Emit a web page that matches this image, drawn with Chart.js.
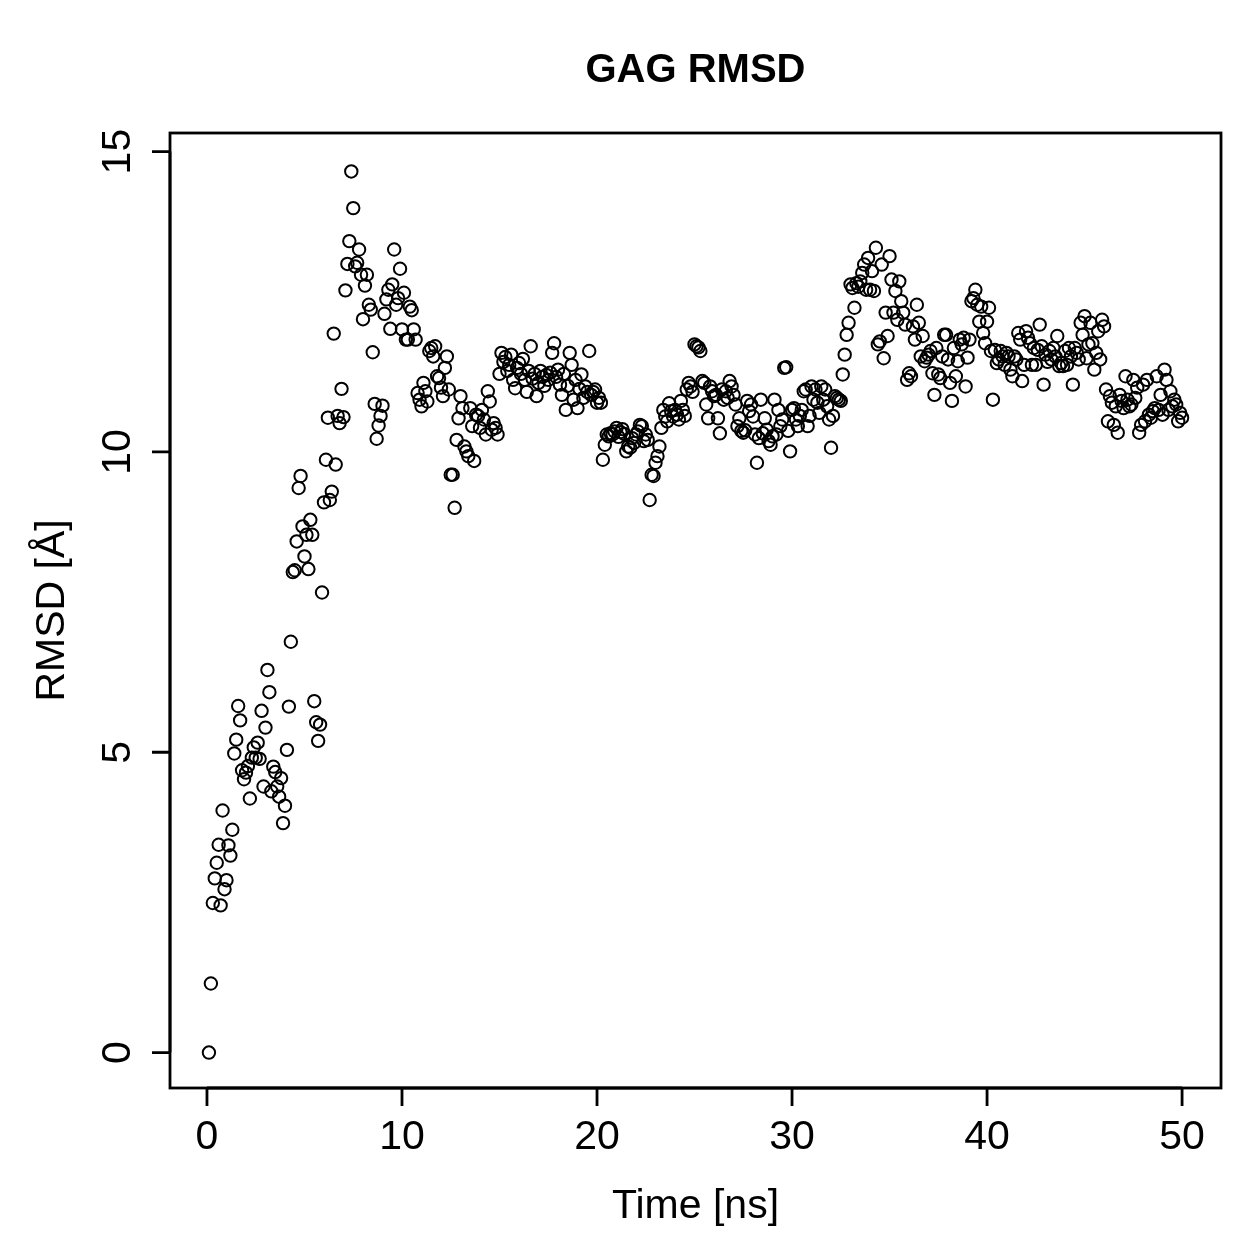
<!DOCTYPE html>
<html>
<head>
<meta charset="utf-8">
<script src="https://cdn.jsdelivr.net/npm/chart.js@4.4.1/dist/chart.umd.min.js"></script>
<style>
  html, body { margin: 0; padding: 0; background: #fff; }
  canvas { display: block; }
</style>
</head>
<body>
<canvas id="rmsdChart" width="1259" height="1259"></canvas>
<script>
// RMSD of the GAG over the trajectory, one frame every 0.1 ns (first frame at 0.1 ns)
const startTime = 0.1;
const timeStep = 0.1;
const rmsd = [
  0, 1.15, 2.49, 2.9, 3.16, 3.46, 2.45, 4.03, 2.72, 2.87,
  3.45, 3.28, 3.71, 4.98, 5.21, 5.77, 5.53, 4.70, 4.55, 4.66,
  4.77, 4.23, 4.91, 5.08, 4.91, 5.16, 4.89, 5.69, 4.43, 5.41,
  6.37, 6.0, 4.35, 4.76, 4.67, 4.43, 4.26, 4.57, 3.82, 4.11,
  5.04, 5.76, 6.84, 8.0, 8.03, 8.51, 9.4, 9.6, 8.76, 8.26,
  8.62, 8.05, 8.87, 8.62, 5.85, 5.5, 5.19, 5.46, 7.66, 9.16,
  9.87, 10.57, 9.2, 9.34, 11.97, 9.79, 10.6, 10.48, 11.05, 10.58,
  12.69, 13.13, 13.51, 14.67, 14.06, 13.09, 13.15, 13.37, 12.95,
  12.21, 12.77, 12.95, 12.45, 12.37, 11.66, 10.8, 10.22, 10.44, 10.6,
  10.77, 12.3, 12.54, 12.7, 12.05, 12.79, 13.37, 12.45, 12.56, 13.05,
  12.04, 12.65, 11.87, 11.87, 12.42, 12.36, 12.04, 11.87, 10.98, 10.87,
  10.76, 11.15, 11.01, 10.84, 11.68, 11.73, 11.59, 11.76, 11.26, 11.23,
  11.07, 10.93, 11.4, 11.59, 11.04, 9.62, 9.62, 9.07, 10.2, 10.56,
  10.93, 10.73, 10.09, 10.01, 9.93, 10.73, 10.43, 9.85, 10.62, 10.6,
  10.4, 10.7, 10.54, 10.29, 11.01, 10.84, 10.37, 10.48, 10.4, 10.29,
  11.3, 11.65, 11.5, 11.58, 11.35, 11.45, 11.62, 11.2, 11.06, 11.4,
  11.48, 11.3, 11.55, 11.2, 11.0, 11.35, 11.76, 11.22, 11.3, 10.93,
  11.15, 11.35, 11.25, 11.1, 11.28, 11.2, 11.32, 11.65, 11.81, 11.25,
  11.37, 11.12, 10.95, 11.3, 10.7, 11.1, 11.65, 11.45, 10.87, 11.2,
  10.73, 11.05, 11.29, 10.9, 11.09, 11.0, 11.68, 10.95, 11.0, 11.04,
  10.82, 10.9, 10.82, 9.87, 10.12, 10.29, 10.26, 10.31, 10.29, 10.34,
  10.4, 10.25, 10.33, 10.38, 10.3, 10.01, 10.09, 10.07, 10.23, 10.15,
  10.29, 10.34, 10.45, 10.43, 10.18, 10.29, 10.2, 9.2, 9.62, 9.6,
  9.82, 9.93, 10.09, 10.4, 10.7, 10.59, 10.51, 10.81, 10.68, 10.59,
  10.7, 10.62, 10.54, 10.85, 10.7, 10.6, 11.04, 11.15, 11.09, 11.0,
  11.79, 11.76, 11.74, 11.68, 11.18, 11.15, 10.79, 10.56, 11.09, 11.01,
  10.93, 10.95, 10.56, 10.31, 11.04, 10.87, 11.01, 10.9, 11.18, 11.09,
  10.95, 10.79, 10.43, 10.56, 10.35, 10.32, 10.36, 10.85, 10.68, 10.79,
  10.59, 10.29, 9.82, 10.23, 10.87, 10.31, 10.56, 10.37, 10.18, 10.12,
  10.26, 10.87, 10.29, 10.7, 10.43, 10.54, 11.4, 11.41, 10.35, 10.01,
  10.7, 10.73, 10.54, 10.43, 10.6, 10.7, 11.01, 11.04, 10.43, 10.6,
  11.09, 10.87, 11.04, 10.82, 10.65, 11.09, 10.87, 11.04, 10.76, 10.54,
  10.07, 10.6, 10.93, 10.9, 10.87, 10.85, 11.29, 11.62, 11.95, 12.15,
  12.79, 12.73, 12.4, 12.81, 12.75, 12.84, 12.98, 13.12, 12.7, 13.23,
  12.7, 13.01, 12.68, 13.4, 11.79, 11.84, 13.12, 11.56, 12.32, 11.93,
  13.26, 12.87, 12.32, 12.68, 12.2, 12.84, 12.51, 12.32, 12.12, 11.2,
  11.31, 11.26, 12.09, 11.87, 12.45, 12.15, 11.59, 11.93, 11.51, 11.57,
  11.62, 11.68, 11.31, 10.95, 11.73, 11.29, 11.23, 11.59, 11.95, 11.95,
  11.54, 11.15, 10.85, 11.73, 11.26, 11.51, 11.87, 11.79, 11.9, 11.09,
  11.57, 11.87, 12.51, 12.56, 12.7, 12.45, 12.17, 12.42, 11.98, 11.81,
  12.17, 12.4, 11.68, 10.87,
  11.7, 11.48, 11.54, 11.68, 11.59, 11.45, 11.65, 11.59, 11.37, 11.26,
  11.59, 11.54, 11.98, 11.87, 11.18, 11.45, 12.01, 11.9, 11.81, 11.45,
  11.73, 11.45, 11.7, 12.12, 11.76, 11.12, 11.62, 11.5, 11.68, 11.54,
  11.73, 11.59, 11.93, 11.43, 11.48, 11.43, 11.68, 11.45, 11.73, 11.59,
  11.12, 11.73, 11.65, 11.54,
  12.15, 11.95, 12.26, 11.56, 11.79, 12.15, 11.81, 11.37, 11.65, 12.01,
  11.54, 12.2, 12.09,
  11.04, 10.51, 10.93, 10.82, 10.45, 10.76, 10.32, 10.95, 10.85, 10.73,
  11.26, 10.87, 10.76, 10.79, 11.2, 10.9, 11.07, 10.32, 10.45, 11.12,
  10.51, 11.2, 10.62, 10.57, 10.68, 10.73, 11.26, 10.7, 10.95, 10.62,
  11.37, 11.2, 10.7, 11.01, 10.76, 10.87, 10.79, 10.51, 10.65, 10.57
];
const xTicks = [0, 10, 20, 30, 40, 50];
const yTicks = [0, 5, 10, 15];

const chartTitle = 'GAG RMSD';
const xLabel = 'Time [ns]';
const yLabel = 'RMSD [Å]';

const points = rmsd.map((v, i) => ({ x: +(startTime + i * timeStep).toFixed(1), y: v }));

const FONT = "'Liberation Sans', Arial, Helvetica, sans-serif";

// R base-graphics style frame: box, outward ticks, rotated y labels
const rFrame = {
  id: 'rFrame',
  afterDraw(chart) {
    const { ctx, chartArea: a, scales: { x, y } } = chart;
    ctx.save();
    ctx.strokeStyle = '#000';
    ctx.fillStyle = '#000';
    ctx.lineWidth = 2.8;
    ctx.lineCap = 'butt';
    ctx.strokeRect(a.left, a.top, a.right - a.left, a.bottom - a.top);

    // x axis
    ctx.beginPath();
    ctx.moveTo(x.getPixelForValue(xTicks[0]), a.bottom);
    ctx.lineTo(x.getPixelForValue(xTicks[xTicks.length - 1]), a.bottom);
    xTicks.forEach(t => {
      const px = x.getPixelForValue(t);
      ctx.moveTo(px, a.bottom);
      ctx.lineTo(px, a.bottom + 18);
    });
    ctx.stroke();

    // y axis
    ctx.beginPath();
    ctx.moveTo(a.left, y.getPixelForValue(yTicks[0]));
    ctx.lineTo(a.left, y.getPixelForValue(yTicks[yTicks.length - 1]));
    yTicks.forEach(t => {
      const py = y.getPixelForValue(t);
      ctx.moveTo(a.left, py);
      ctx.lineTo(a.left - 18, py);
    });
    ctx.stroke();

    ctx.font = `41px ${FONT}`;
    ctx.textAlign = 'center';
    ctx.textBaseline = 'alphabetic';
    xTicks.forEach(t => {
      ctx.fillText(String(t), x.getPixelForValue(t), 1149);
    });
    yTicks.forEach(t => {
      ctx.save();
      ctx.translate(130, y.getPixelForValue(t));
      ctx.rotate(-Math.PI / 2);
      ctx.fillText(String(t), 0, 0);
      ctx.restore();
    });

    const cx = (a.left + a.right) / 2;
    const cy = (a.top + a.bottom) / 2;
    ctx.fillText(xLabel, cx, 1218);
    ctx.save();
    ctx.translate(64, cy);
    ctx.rotate(-Math.PI / 2);
    ctx.fillText(yLabel, 0, 0);
    ctx.restore();

    ctx.font = `bold 40px ${FONT}`;
    ctx.fillText(chartTitle, cx, 82);
    ctx.restore();
  }
};

new Chart(document.getElementById('rmsdChart'), {
  type: 'scatter',
  data: {
    datasets: [{
      data: points,
      showLine: false,
      pointStyle: 'circle',
      pointRadius: 6.2,
      pointBorderWidth: 2,
      pointBackgroundColor: 'rgba(0,0,0,0)',
      pointBorderColor: '#000'
    }]
  },
  options: {
    responsive: false,
    devicePixelRatio: 1,
    animation: false,
    events: [],
    layout: { padding: { left: 170, top: 133, right: 38, bottom: 171 } },
    scales: {
      x: { type: 'linear', min: -1.896, max: 51.996, display: false },
      y: { type: 'linear', min: -0.59, max: 15.31, display: false }
    },
    plugins: {
      legend: { display: false },
      tooltip: { enabled: false },
      title: { display: false }
    }
  },
  plugins: [rFrame]
});
</script>
</body>
</html>
